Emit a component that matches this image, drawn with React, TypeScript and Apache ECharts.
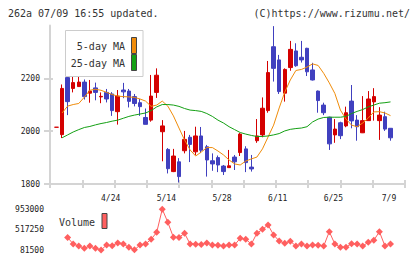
import React, { useEffect, useRef } from "react";
import * as echarts from "echarts";

// ---- data ----
const dates = [
  "4/10","4/11","4/14","4/15","4/16","4/17","4/18","4/21","4/22","4/23",
  "4/24","4/25","4/28","4/30","5/1","5/2","5/7","5/8","5/9","5/13",
  "5/14","5/15","5/16","5/19","5/20","5/21","5/22","5/23","5/26","5/27",
  "5/28","5/29","5/30","6/2","6/3","6/4","6/5","6/6","6/9","6/10",
  "6/11","6/12","6/13","6/16","6/17","6/18","6/19","6/20","6/23","6/24",
  "6/25","6/26","6/27","6/30","7/1","7/2","7/3","7/4","7/7","7/8","7/9",
];
const opens = [
  2015,1987,2203,2162,2169,2186,2144,2164,2130,2147,
  2141,2074,2156,2152,2131,2108,2052,2042,2147,1998,
  1931,1847,1884,1926,1977,1922,1982,1941,1888,1900,
  1868,1862,1902,1919,1933,1864,1964,1986,2078,2320,
  2270,2144,2241,2304,2280,2314,2232,2152,2099,2053,
  1986,2032,2020,2114,2042,1994,2040,2111,2040,2055,2011,
];
const closes = [
  2015,2162,2112,2184,2186,2131,2152,2147,2132,2122,
  2078,2133,2149,2113,2105,2093,2026,2133,2212,2020,
  1858,1906,1828,1969,1950,1982,1928,1891,1876,1872,
  1847,1869,1884,1989,1881,1857,1982,2087,2222,2238,
  2150,2234,2310,2248,2270,2225,2194,2116,2070,1952,
  2008,1983,2070,2039,2017,2040,2122,2131,2061,2008,1975,
];
const lows = [
  2015,1974,2061,2147,2168,2120,2108,2117,2106,2109,
  2058,2025,2125,2090,2094,2058,2026,2036,2126,1886,
  1840,1845,1806,1916,1883,1910,1917,1828,1850,1845,
  1834,1862,1853,1906,1845,1847,1956,1977,2070,2188,
  2141,2112,2229,2244,2260,2209,2192,2070,2061,1929,
  1956,1970,2015,2011,1964,1993,2039,2040,1967,2001,1964,
];
const highs = [
  2015,2177,2209,2234,2241,2196,2194,2184,2147,2160,
  2148,2156,2183,2160,2141,2122,2086,2213,2238,2042,
  1936,1933,1898,2001,1986,2017,2016,1948,1916,1908,
  1872,1929,1910,1993,1943,1910,2046,2128,2266,2398,
  2289,2238,2342,2333,2342,2316,2259,2154,2108,2055,
  2046,2036,2093,2175,2061,2133,2152,2163,2091,2074,2012,
];
const ma5 = [
  null,2069,2095,2101,2105,2129,2155,2159,2155,2147,
  2139,2133,2131,2130,2128,2122,2114,2094,2099,2114,
  2095,2058,2012,1967,1929,1906,1921,1938,1938,1925,
  1910,1891,1876,1872,1887,1895,1902,1933,1978,2023,
  2088,2148,2194,2230,2234,2243,2255,2249,2219,2183,
  2143,2080,2046,2023,2017,2031,2050,2073,2074,2069,2059,
];
const ma25 = [
  null,1975,1986,1997,2006,2014,2018,2024,2029,2033,
  2038,2042,2049,2056,2061,2065,2069,2078,2092,2101,
  2101,2099,2094,2086,2080,2078,2075,2067,2056,2042,
  2031,2017,2006,1995,1989,1984,1980,1980,1982,1986,
  1991,2001,2007,2010,2012,2017,2035,2046,2052,2053,
  2053,2053,2056,2067,2075,2082,2092,2099,2106,2108,2111,
];
const volumes = [
  null,null,348500,209700,166900,117800,166900,117800,81500,188300,
  173300,231000,209700,139200,85000,188300,209700,310000,459600,953000,
  673200,352800,350000,438200,209700,205000,200000,231000,188300,185000,
  166900,188300,190000,331400,310000,209700,438200,523600,615500,404000,
  273700,224600,270000,166900,209700,166900,188300,185000,166900,472400,
  209700,139200,139200,216000,209700,166900,246000,288000,472400,166900,209700,
];
const priceTicks = [1800, 2000, 2200];
const volumeTicks = [81500, 517250, 953000];
const dateLabelIdx = [10, 20, 30, 40, 50, 60];

const UP = "#d40000";
const DOWN = "#4040bf";
const MA5C = "#f08c0a";
const MA25C = "#14a014";
const VOLC = "#ff5f5f";
const AX = "#d4d4d4";
const FONT = "DejaVu Sans Mono";

export default function App() {
  const ref = useRef<HTMLDivElement>(null);
  useEffect(() => {
    if (!ref.current) return;
    const chart = echarts.init(ref.current, undefined, { renderer: "svg" });
    const xMin = -1.1675;
    const xMax = 62.6;
    const xTicks = Array.from({ length: 12 }, (_, k) => xMin + (k * (xMax - xMin)) / 11);
    const candle = dates.map((_, i) => [i, opens[i], closes[i], lows[i], highs[i]]);
    const toPts = (arr: (number | null)[]) =>
      arr.map((v, i) => (v == null ? null : [i, v])).filter((p) => p !== null);
    const lbl = { fontSize: 8, color: "#222", fontFamily: FONT };
    const plain = (v: number) => String(Math.round(v));
    const option: any = {
      animation: false,
      textStyle: { fontFamily: FONT },
      grid: [
        { left: 50, right: 15, top: 25.6, height: 158.4 },
        { left: 50, right: 15, top: 209.2, height: 40.8 },
      ],
      xAxis: [
        {
          type: "value", gridIndex: 0, min: xMin, max: xMax, position: "bottom",
          axisLine: { show: true, onZero: false, lineStyle: { color: AX, width: 2 } },
          axisTick: { show: true, inside: true, length: 4, customValues: xTicks, lineStyle: { color: AX, width: 2 } },
          axisLabel: {
            show: true, customValues: dateLabelIdx, ...lbl, margin: 10, padding: [0, 3, 0, 0],
            formatter: (v: number) => dates[Math.round(v)],
          },
          splitLine: { show: false },
        },
        {
          type: "value", gridIndex: 0, min: xMin, max: xMax, position: "bottom",
          axisLine: { show: false, onZero: false },
          axisTick: { show: true, length: 4, customValues: xTicks, lineStyle: { color: AX, width: 2 } },
          axisLabel: { show: false },
          splitLine: { show: false },
        },
        { type: "value", gridIndex: 1, min: xMin, max: xMax, show: false },
      ],
      yAxis: [
        {
          type: "value", gridIndex: 0, min: 1800, max: 2400, position: "left",
          axisLine: { show: true, onZero: false, lineStyle: { color: AX, width: 2 } },
          axisTick: { show: true, length: 6, customValues: priceTicks, lineStyle: { color: AX, width: 2 } },
          axisLabel: { show: true, customValues: priceTicks, ...lbl, margin: 10, formatter: plain },
          splitLine: { show: false },
        },
        {
          type: "value", gridIndex: 0, min: 1800, max: 2400, position: "left",
          axisLine: { show: false, onZero: false },
          axisTick: { show: true, inside: true, length: 3, customValues: priceTicks, lineStyle: { color: AX, width: 2 } },
          axisLabel: { show: false },
          splitLine: { show: false },
        },
        {
          type: "value", gridIndex: 1, min: 81500, max: 953000, position: "left",
          axisLine: { show: false, onZero: false },
          axisTick: { show: false },
          axisLabel: { show: true, customValues: volumeTicks, ...lbl, margin: 6, formatter: plain },
          splitLine: { show: false },
        },
      ],
      series: [
        {
          type: "candlestick", xAxisIndex: 0, yAxisIndex: 0, data: candle,
          encode: { x: 0, y: [1, 2, 3, 4] }, barWidth: 4,
          itemStyle: { color: UP, color0: DOWN, borderColor: UP, borderColor0: DOWN, borderWidth: 1 },
        },
        {
          type: "line", xAxisIndex: 0, yAxisIndex: 0, data: toPts(ma5), showSymbol: false,
          lineStyle: { color: MA5C, width: 1 }, z: 3,
        },
        {
          type: "line", xAxisIndex: 0, yAxisIndex: 0, data: toPts(ma25), showSymbol: false,
          lineStyle: { color: MA25C, width: 1 }, z: 3,
        },
        {
          type: "line", xAxisIndex: 2, yAxisIndex: 2, data: toPts(volumes),
          symbol: "diamond", symbolSize: 7, itemStyle: { color: VOLC },
          lineStyle: { color: VOLC, width: 1 },
        },
      ],
      graphic: [
        { type: "text", x: 8, y: 13, style: { text: "262a 07/09 16:55 updated.", fontSize: 10, fontFamily: FONT, fill: "#333", verticalAlign: "middle" } },
        { type: "text", x: 410, y: 13, style: { text: "(C)https://www.rizumu.net/", fontSize: 10, fontFamily: FONT, fill: "#333", align: "right", verticalAlign: "middle" } },
        { type: "rect", z: 100, shape: { x: 65.5, y: 30.5, width: 77.5, height: 46 }, style: { fill: "#fff", stroke: "#cccccc", lineWidth: 1 } },
        { type: "text", z: 101, x: 125, y: 46, style: { text: "5-day MA", fontSize: 10, fontFamily: FONT, fill: "#333", align: "right", verticalAlign: "middle" } },
        { type: "text", z: 101, x: 125, y: 63, style: { text: "25-day MA", fontSize: 10, fontFamily: FONT, fill: "#333", align: "right", verticalAlign: "middle" } },
        { type: "rect", z: 101, shape: { x: 131.5, y: 37.5, width: 5, height: 16 }, style: { fill: MA5C, stroke: "#444", lineWidth: 1 } },
        { type: "rect", z: 101, shape: { x: 131.5, y: 54.5, width: 5, height: 16 }, style: { fill: MA25C, stroke: "#444", lineWidth: 1 } },
        { type: "text", z: 101, x: 59, y: 222, style: { text: "Volume", fontSize: 10, fontFamily: FONT, fill: "#333", verticalAlign: "middle" } },
        { type: "rect", z: 101, shape: { x: 102, y: 213.5, width: 5, height: 15 }, style: { fill: VOLC, stroke: "#444", lineWidth: 1 } },
      ],
    };
    chart.setOption(option);
    return () => chart.dispose();
  }, []);
  return (
    <div
      ref={ref}
      style={{ position: "fixed", left: 0, top: 0, width: 420, height: 259, background: "#fff" }}
    />
  );
}
